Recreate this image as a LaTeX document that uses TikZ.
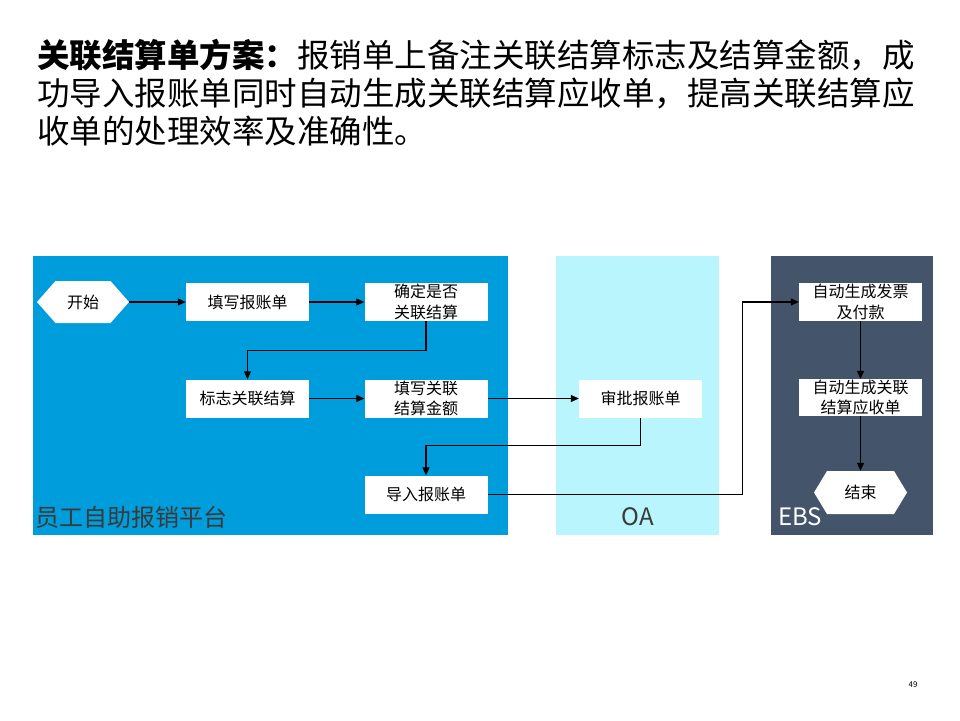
\documentclass[tikz,border=0pt]{standalone}
\usepackage{fontspec}
\setmainfont{Noto Sans CJK SC}
\usetikzlibrary{arrows.meta}
\definecolor{empblue}{HTML}{009DDC}
\definecolor{oacyan}{HTML}{B9F5FC}
\definecolor{ebsslate}{HTML}{44546A}
\definecolor{labgray}{HTML}{3A3A3A}
\begin{document}
\begin{tikzpicture}[x=1pt,y=-1pt,
  box/.style={fill=white, minimum width=123, minimum height=38, inner sep=0, align=center,
    font={\fontsize{16}{20.5}\selectfont}},
  hexa/.style={minimum width=92, minimum height=42, inner sep=0,
    font={\fontsize{16}{20.5}\selectfont},
    path picture={\fill[white] (path picture bounding box.west)
      -- ([xshift=#1]path picture bounding box.north west)
      -- ([xshift=-#1]path picture bounding box.north east)
      -- (path picture bounding box.east)
      -- ([xshift=-#1]path picture bounding box.south east)
      -- ([xshift=#1]path picture bounding box.south west) -- cycle;}},
  conn/.style={draw=black, line width=1.1pt, -{Triangle[length=8pt,width=7pt]}},
  lane/.style={font={\fontsize{24}{28}\selectfont}, inner sep=0},
  titleline/.style={anchor=west, inner sep=0, font={\fontsize{32.5}{38}\selectfont}}
]
\useasboundingbox[fill=white] (0,0) rectangle (960,720);

% title
\node[titleline] (t1) at (37,55) {\textbf{关联结算单方案：}报销单上备注关联结算标志及结算金额，成};
\node[titleline] (t2) at (37,93.5) {功导入报账单同时自动生成关联结算应收单，提高关联结算应};
\node[titleline] (t3) at (37,131.5) {收单的处理效率及准确性。};

% lanes
\fill[empblue] (33,256) rectangle (508,535);
\fill[oacyan] (556,256) rectangle (719,535);
\fill[ebsslate] (771,256) rectangle (933,535);
\node[lane, anchor=west, text=labgray] (l1) at (35,517) {员工自助报销平台};
\node[lane, text=labgray] (l2) at (637.5,517) {OA};
\node[lane, anchor=west, text=white] (l3) at (778,517) {EBS};

% nodes
\node[hexa=18.5] (start) at (83,302) {开始};
\node[box] (fill1) at (247.5,302) {填写报账单};
\node[box] (decide) at (426,302) {确定是否\\关联结算};
\node[box] (mark) at (247.5,398.5) {标志关联结算};
\node[box] (amount) at (426,398.5) {填写关联\\结算金额};
\node[box] (approve) at (640.5,398.5) {审批报账单};
\node[box] (import) at (426,494.5) {导入报账单};
\node[box] (inv) at (860.5,302) {自动生成发票\\及付款};
\node[box, minimum height=37] (ar) at (860.5,397.5) {自动生成关联\\结算应收单};
\node[hexa=13, minimum width=93, minimum height=43] (end) at (860.5,492.5) {结束};

% connectors
\draw[conn] (start.east) -- (fill1.west);
\draw[conn] (fill1.east) -- (decide.west);
\draw[conn] (decide.south) -- ++(0,29) -| (mark.north);
\draw[conn] (mark.east) -- (amount.west);
\draw[conn] (amount.east) -- (approve.west);
\draw[conn] (approve.south) -- ++(0,28) -| (import.north);
\draw[conn] (import.east) -- ++(255,0) |- (inv.west);
\draw[conn] (inv.south) -- (ar.north);
\draw[conn] (ar.south) -- (end.north);

% page number
\node[font={\fontsize{8}{9}\selectfont}, inner sep=0] (pg) at (913,685) {49};
\end{tikzpicture}
\end{document}
